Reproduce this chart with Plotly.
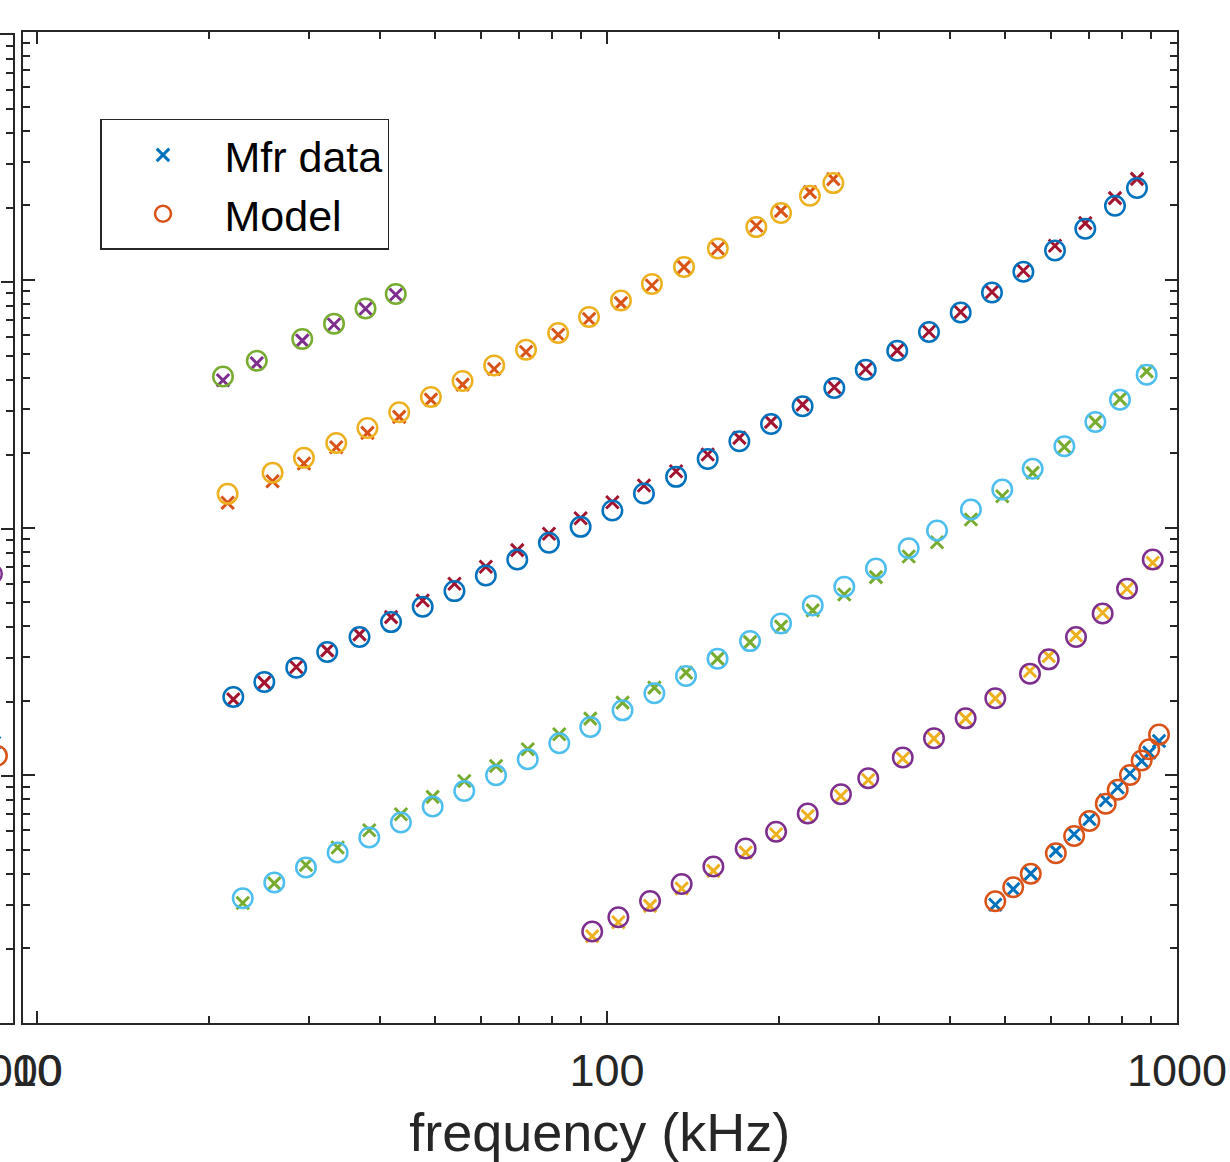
import plotly.graph_objects as go

# ---------------- data (frequency in kHz) ----------------
# set 1
f1 = [480, 516, 554, 613, 660, 702, 750, 787, 827, 867, 894, 930]
mfr1 = [0.300, 0.347, 0.401, 0.495, 0.578, 0.665, 0.793, 0.892, 1.016, 1.142, 1.234, 1.375]
model1 = [0.310, 0.353, 0.400, 0.484, 0.569, 0.654, 0.768, 0.874, 1.002, 1.147, 1.273, 1.459]

# set 2
f2 = [94.2, 104.7, 119.0, 135.2, 153.7, 175.1, 198.0, 225.0, 257.3, 287.3,
      330.3, 374.7, 425.8, 480.0, 552.2, 595.7, 665.0, 740.6, 817.2, 906.7]
mfr2 = [0.224, 0.255, 0.297, 0.349, 0.411, 0.488, 0.578, 0.685, 0.825, 0.957,
        1.168, 1.406, 1.697, 2.044, 2.634, 3.027, 3.669, 4.529, 5.659, 7.205]
model2 = [0.234, 0.267, 0.311, 0.364, 0.428, 0.506, 0.591, 0.701, 0.838, 0.973,
          1.179, 1.410, 1.697, 2.044, 2.571, 2.936, 3.612, 4.500, 5.659, 7.430]

# set 3
f3 = [22.96, 26.08, 29.64, 33.69, 38.28, 43.50, 49.45, 56.18, 63.88, 72.61,
      82.47, 93.48, 106.5, 121.1, 137.6, 156.3, 178.2, 202.0, 229.6, 260.8,
      296.4, 338.3, 379.3, 435.0, 493.7, 558.2, 634.4, 719.1, 794.3, 884.7]
mfr3 = [0.305, 0.366, 0.434, 0.511, 0.600, 0.696, 0.818, 0.948, 1.090, 1.273,
        1.463, 1.693, 1.964, 2.257, 2.595, 2.955, 3.447, 3.978, 4.627, 5.368,
        6.304, 7.640, 8.724, 10.77, 13.37, 16.62, 21.15, 26.68, 33.04, 42.68]
model3 = [0.319, 0.369, 0.424, 0.488, 0.561, 0.645, 0.748, 0.864, 1.000, 1.160,
          1.346, 1.566, 1.828, 2.141, 2.514, 2.955, 3.479, 4.102, 4.848, 5.767,
          6.835, 8.251, 9.725, 11.82, 14.23, 17.25, 21.27, 26.68, 32.82, 41.40]

# set 4
f4 = [22.1, 25.05, 28.5, 32.3, 36.8, 41.8, 47.5, 54.0, 61.3, 69.6,
      79.1, 89.9, 102.2, 116.1, 132.2, 150.2, 170.7, 194.0, 220.4, 250.5,
      284.4, 323.0, 367.2, 417.4, 473.6, 537.6, 610.9, 690.4, 778.4, 850.8]
mfr4 = [2.025, 2.365, 2.734, 3.192, 3.703, 4.347, 5.077, 5.929, 6.942, 8.101,
        9.432, 10.90, 12.65, 14.77, 16.87, 19.70, 23.00, 26.68, 31.33, 36.80,
        43.64, 51.87, 61.70, 74.11, 89.21, 108.7, 137.1, 169.3, 213.5, 255.5]
model4 = [2.069, 2.378, 2.719, 3.142, 3.612, 4.151, 4.787, 5.536, 6.405, 7.430,
          8.677, 10.06, 11.71, 13.71, 16.01, 18.92, 22.28, 26.19, 30.84, 36.59,
          43.36, 51.72, 61.53, 73.82, 88.88, 107.7, 131.3, 160.6, 198.8, 234.4]

# set 5
f5 = [21.6, 25.9, 29.4, 33.5, 38.0, 43.2, 49.1, 55.8, 63.4, 72.1,
      82.1, 93.0, 105.8, 119.9, 136.5, 156.5, 182.8, 202.0, 227.0, 249.5]
mfr5 = [12.58, 15.37, 18.12, 21.08, 24.10, 27.95, 32.82, 37.72, 43.64, 51.11,
        60.0, 69.4, 80.5, 94.8, 112.5, 133.7, 165.1, 189.7, 225.7, 254.7]
model5 = [13.67, 16.62, 19.10, 21.95, 25.23, 29.17, 33.65, 39.04, 45.12, 52.21,
          60.97, 70.72, 82.51, 96.1, 112.5, 133.7, 163.1, 185.8, 218.2, 245.5]

# set 6
f6 = [21.2, 24.3, 29.2, 33.2, 37.7, 42.6]
mfr6 = [39.3, 46.0, 56.8, 66.0, 76.4, 87.0]
model6 = [40.7, 47.1, 57.7, 66.5, 76.6, 87.6]

# neighbouring (cropped) panel on the left
left_f_model1 = [937]
left_model1 = [1.208]
left_f_mfr1 = [926]
left_mfr1 = [1.364]
left_f_model2 = [918]
left_model2 = [6.58]

x_tick_vals = [10, 100, 1000]
x_tick_text = ["10", "100", "1000"]
x_label = "frequency (kHz)"
legend_names = ["Mfr data", "Model"]

# MATLAB default colour order
BLUE, ORANGE, YELLOW, PURPLE = "#0072BD", "#D95319", "#EDB120", "#7E2F8E"
GREEN, LBLUE, DRED = "#77AC30", "#4DBEEE", "#A2142F"
AX = "#262626"
FONT = "Liberation Sans, Arial, Helvetica, sans-serif"

sets = [
    (f1, mfr1, model1, BLUE, ORANGE),
    (f2, mfr2, model2, YELLOW, PURPLE),
    (f3, mfr3, model3, GREEN, LBLUE),
    (f4, mfr4, model4, DRED, BLUE),
    (f5, mfr5, model5, ORANGE, YELLOW),
    (f6, mfr6, model6, PURPLE, GREEN),
]

fig = go.Figure()

X_SIZE, X_W = 12.5, 3
O_SIZE, O_W = 19.5, 2.5

for i, (f, mfr, model, cx, co) in enumerate(sets):
    fig.add_trace(go.Scatter(
        x=f, y=mfr, mode="markers", name=legend_names[0], showlegend=(i == 0),
        marker=dict(symbol="x-thin-open", size=X_SIZE, color=cx,
                    line=dict(color=cx, width=X_W)),
        xaxis="x", yaxis="y"))
    fig.add_trace(go.Scatter(
        x=f, y=model, mode="markers", name=legend_names[1], showlegend=(i == 0),
        marker=dict(symbol="circle-open", size=O_SIZE, color=co,
                    line=dict(color=co, width=O_W)),
        xaxis="x", yaxis="y"))

# cropped neighbouring panel
fig.add_trace(go.Scatter(x=left_f_mfr1, y=left_mfr1, mode="markers", showlegend=False,
                         marker=dict(symbol="x-thin-open", size=X_SIZE, color=BLUE,
                                     line=dict(color=BLUE, width=X_W)),
                         xaxis="x2", yaxis="y2", cliponaxis=True))
fig.add_trace(go.Scatter(x=left_f_model1, y=left_model1, mode="markers", showlegend=False,
                         marker=dict(symbol="circle-open", size=O_SIZE, color=ORANGE,
                                     line=dict(color=ORANGE, width=O_W)),
                         xaxis="x2", yaxis="y2", cliponaxis=True))
fig.add_trace(go.Scatter(x=left_f_model2, y=left_model2, mode="markers", showlegend=False,
                         marker=dict(symbol="circle-open", size=O_SIZE, color=PURPLE,
                                     line=dict(color=PURPLE, width=O_W)),
                         xaxis="x2", yaxis="y2", cliponaxis=True))

W, H = 1230, 1162
L, R, T, B = 0, 0, 32, 138.5
pw = W - L - R
ph = H - T - B

minor_common = dict(ticks="inside", ticklen=7, tickwidth=1.6, tickcolor=AX, dtick="D1", showgrid=False)

fig.update_layout(
    width=W, height=H,
    margin=dict(l=L, r=R, t=T, b=B, pad=0),
    paper_bgcolor="white", plot_bgcolor="white",
    font=dict(family=FONT, size=45, color=AX),
    showlegend=True,
    legend=dict(x=100 / pw, y=(H - B - 119) / ph, xanchor="left", yanchor="top",
                bgcolor="white", bordercolor=AX, borderwidth=1.5,
                font=dict(family=FONT, size=43, color="black"),
                itemwidth=113, tracegroupgap=0),
    xaxis=dict(type="log", domain=[22.5 / pw, 1177 / pw], range=[0.9746, 3],
               anchor="y", tickvals=x_tick_vals, ticktext=x_tick_text,
               ticks="inside", ticklen=12, tickwidth=1.6, tickcolor=AX,
               minor=minor_common, ticklabelstandoff=7, ticklabeloverflow="allow",
               showline=True, linecolor=AX, linewidth=2, mirror="ticks",
               showgrid=False, zeroline=False,
               tickfont=dict(size=45, color=AX),
               title=dict(text=x_label, font=dict(size=54, color=AX), standoff=22),
               automargin=False),
    yaxis=dict(type="log", domain=[0, 1], range=[-1, 3], anchor="x",
               ticks="inside", ticklen=12, tickwidth=1.6, tickcolor=AX,
               dtick=1, minor=minor_common, showticklabels=False,
               showline=True, linecolor=AX, linewidth=2, mirror="ticks",
               showgrid=False, zeroline=False, automargin=False),
    xaxis2=dict(type="log", domain=[0, 13 / pw], range=[3 - 13 / 570, 3.0004],
                anchor="y2", tickvals=[1000], ticktext=["1000"], ticks="",
                ticklabelstandoff=7, ticklabeloverflow="allow",
                tickfont=dict(size=45, color=AX),
                showline=True, linecolor=AX, linewidth=2, mirror=True,
                showgrid=False, zeroline=False, automargin=False),
    yaxis2=dict(type="log", domain=[0, (H - B - 35) / ph], range=[-1, 3], anchor="x2",
                side="right", ticks="inside", ticklen=12, tickwidth=1.6, tickcolor=AX,
                dtick=1, minor=minor_common, showticklabels=False,
                showline=True, linecolor=AX, linewidth=2,
                showgrid=False, zeroline=False, automargin=False),
)

fig.write_html("out.html")
